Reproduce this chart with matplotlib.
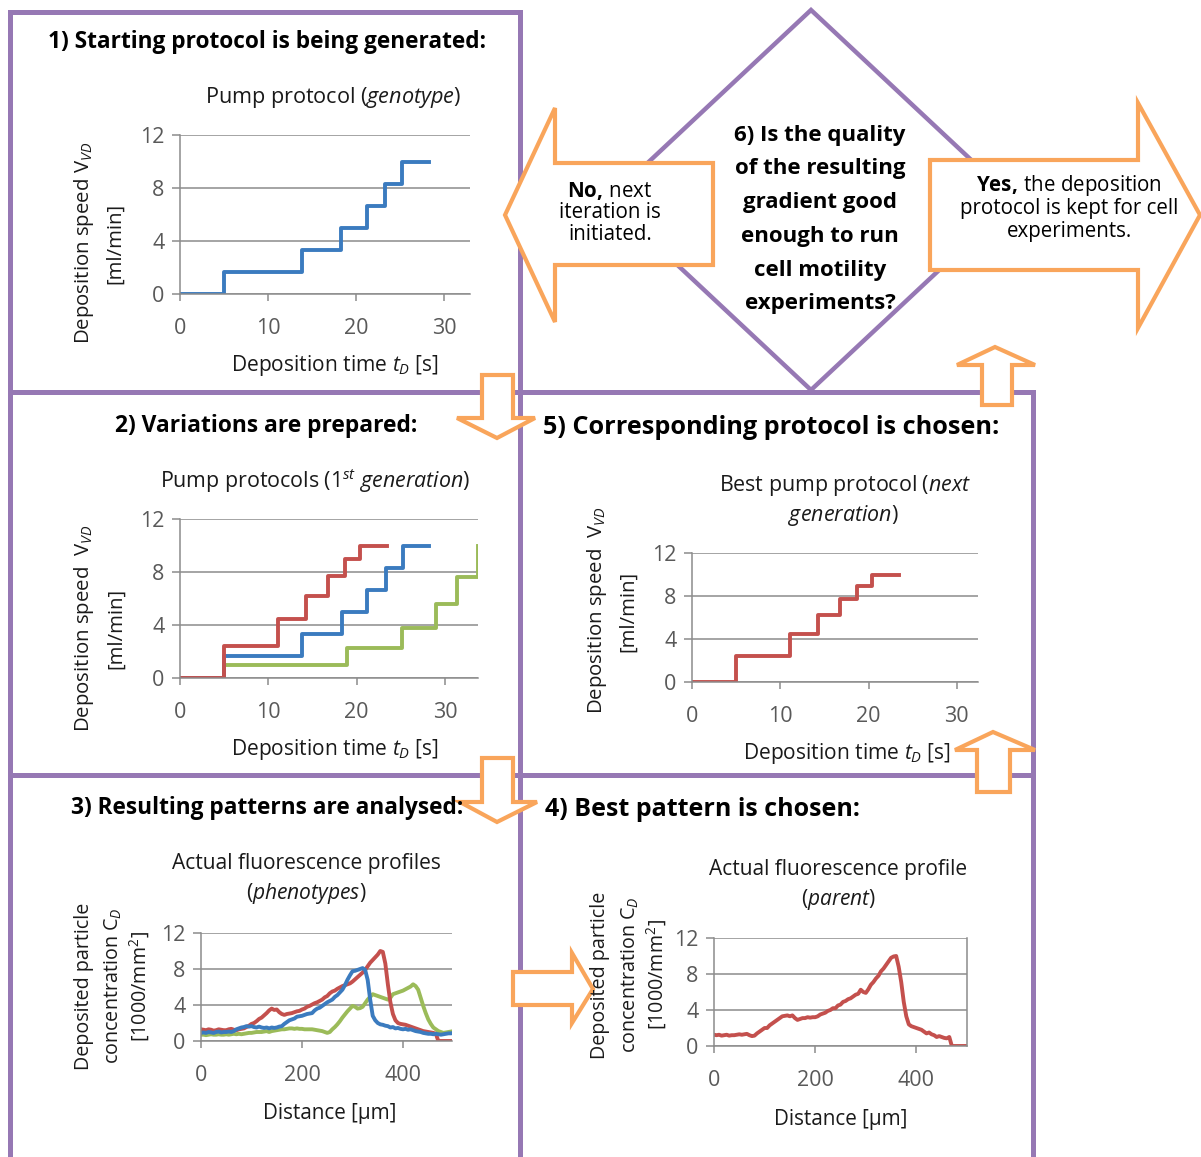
import matplotlib
matplotlib.use("Agg")
import matplotlib.pyplot as plt
from matplotlib.patches import Polygon

plt.rcParams['font.family'] = ['Open Sans', 'DejaVu Sans']
plt.rcParams['mathtext.fontset'] = 'custom'
plt.rcParams['mathtext.rm'] = 'Open Sans'
plt.rcParams['mathtext.it'] = 'Open Sans:italic'
plt.rcParams['mathtext.bf'] = 'Open Sans:bold'

# ---- pump protocols (step functions): switch times [s] and speeds [ml/min]
blue_t = [0, 5, 13.8, 18.3, 21.2, 23.3, 25.2, 28.2]
blue_v = [0, 1.67, 3.33, 5.0, 6.67, 8.33, 10, 10]
red_t = [0, 5, 11.1, 14.3, 16.8, 18.7, 20.4, 23.5]
red_v = [0, 2.4, 4.45, 6.2, 7.7, 8.95, 10, 10]
green_t = [0, 5, 18.9, 25.1, 29.0, 31.4, 33.7, 33.7]
green_v = [0, 1.0, 2.3, 3.8, 5.6, 7.6, 10, 10]

# ---- fluorescence profiles, sampled every 5 um from 0 to 500
dist = list(range(0, 505, 5))
prof_red = [1.3, 1.25, 1.2, 1.3, 1.25, 1.15, 1.2, 1.3, 1.25, 1.2,
            1.2, 1.3, 1.35, 1.25, 1.2, 1.3, 1.35, 1.4, 1.55, 1.7,
            1.9, 2.0, 2.2, 2.45, 2.6, 2.85, 3.1, 3.4, 3.6, 3.45,
            3.5, 3.2, 3.0, 2.9, 3.0, 3.05, 3.1, 3.2, 3.3, 3.35,
            3.5, 3.6, 3.8, 3.9, 4.05, 4.2, 4.3, 4.45, 4.6, 4.85,
            5.0, 5.3, 5.5, 5.6, 5.8, 5.95, 6.1, 6.2, 6.3, 6.4,
            6.6, 6.85, 7.1, 7.35, 7.6, 7.9, 8.3, 8.7, 9.0, 9.3,
            9.6, 10.0, 9.9, 8.6, 6.3, 4.3, 3.0, 2.3, 2.0, 1.9,
            1.85, 1.8, 1.7, 1.6, 1.5, 1.4, 1.3, 1.2, 1.1, 1.05,
            1.0, 0.95, 0.9, 0.8, 0.0, 0, 0, 0, 0, 0,
            0]
prof_blue = [0.9, 0.95, 0.9, 1.0, 0.95, 0.9, 1.0, 1.05, 0.95, 1.0,
             1.0, 1.05, 1.0, 1.1, 1.3, 1.4, 1.5, 1.55, 1.65, 1.6,
             1.65, 1.55, 1.5, 1.6, 1.5, 1.45, 1.5, 1.4, 1.5, 1.45,
             1.5, 1.6, 1.65, 1.9, 2.1, 2.3, 2.4, 2.5, 2.7, 2.75,
             2.8, 2.9, 3.0, 3.05, 3.1, 3.4, 3.6, 3.7, 3.9, 4.1,
             4.3, 4.45, 4.6, 4.9, 5.1, 5.4, 5.7, 6.2, 6.8, 7.3,
             7.75, 7.8, 7.9, 8.0, 8.1, 7.9, 6.8, 4.6, 2.8, 2.3,
             2.0, 1.85, 1.8, 1.7, 1.65, 1.5, 1.55, 1.4, 1.45, 1.35,
             1.3, 1.35, 1.25, 1.3, 1.2, 1.1, 1.05, 1.0, 0.9, 0.85,
             0.8, 0.8, 0.75, 0.8, 0.75, 0.7, 0.75, 0.8, 0.85, 0.85,
             0.9]
prof_green = [0.7, 0.7, 0.65, 0.7, 0.75, 0.7, 0.7, 0.75, 0.7, 0.7,
              0.75, 0.7, 0.75, 0.8, 0.75, 0.8, 0.75, 0.8, 0.85, 0.9,
              0.9, 0.95, 1.0, 1.0, 1.0, 1.05, 1.1, 1.0, 1.1, 1.15,
              1.2, 1.25, 1.3, 1.3, 1.35, 1.4, 1.4, 1.35, 1.4, 1.35,
              1.35, 1.3, 1.3, 1.3, 1.3, 1.25, 1.2, 1.15, 1.1, 1.0,
              0.9, 1.0, 1.3, 1.55, 1.85, 2.2, 2.6, 2.95, 3.3, 3.6,
              3.9, 3.8, 3.6, 3.65, 3.8, 4.2, 4.6, 4.9, 5.2, 5.1,
              5.0, 4.9, 4.8, 4.7, 4.6, 4.8, 5.2, 5.3, 5.4, 5.5,
              5.6, 5.75, 5.9, 6.05, 6.3, 6.1, 5.7, 4.8, 3.9, 3.1,
              2.4, 1.9, 1.5, 1.3, 1.1, 1.0, 0.9, 0.95, 1.0, 1.05,
              1.1]
prof_parent = [1.25, 1.2, 1.25, 1.15, 1.2, 1.25, 1.15, 1.2, 1.2, 1.25,
               1.3, 1.25, 1.3, 1.35, 1.2, 1.1, 1.15, 1.4, 1.6, 1.8,
               2.0, 2.0, 2.3, 2.5, 2.7, 2.9, 3.1, 3.3, 3.35, 3.4,
               3.3, 3.4, 3.1, 2.9, 3.0, 3.1, 3.1, 3.2, 3.15, 3.2,
               3.2, 3.3, 3.5, 3.6, 3.7, 3.9, 4.0, 4.2, 4.2, 4.5,
               4.6, 4.9, 5.0, 5.2, 5.3, 5.5, 5.7, 5.8, 6.25, 6.0,
               5.9, 6.3, 6.8, 7.1, 7.5, 7.8, 8.3, 8.6, 9.0, 9.4,
               9.8, 9.95, 10.0, 8.8, 7.1, 4.9, 3.3, 2.4, 2.2, 2.1,
               2.0, 1.9, 1.8, 1.6, 1.4, 1.5, 1.3, 1.2, 1.0, 1.1,
               1.0, 0.9, 0.85, 1.0, 0.0, 0, 0, 0, 0, 0,
               0]

speed_ticks = [0, 4, 8, 12]
time_ticks = [0, 10, 20, 30]
dist_ticks = [0, 200, 400]

W, H = 1201, 1157
PURPLE = '#9678B4'
ORANGE = '#F9A55B'
BLUE = '#3B7BBF'
RED = '#C4504D'
GREEN = '#9BBB59'
GRID = '#8C8C8C'
TICKC = '#595959'
TXT = '#1a1a1a'

fig = plt.figure(figsize=(W / 100, H / 100), dpi=100)

# overlay axes in pixel coordinates for the flowchart
ov = fig.add_axes([0, 0, 1, 1])
ov.set_xlim(0, W)
ov.set_ylim(H, 0)
ov.axis('off')

# purple boxes
lw_box = 3.6
for xs, ys in [([10, 520], [12, 12]), ([10, 10], [12, H]), ([520, 520], [12, H]),
               ([10, 1033], [392, 392]), ([10, 1033], [775, 775]), ([1033, 1033], [392, H])]:
    ov.plot(xs, ys, color=PURPLE, lw=lw_box, solid_capstyle='projecting')

# decision diamond
ov.add_patch(Polygon([(811, 10), (1014, 200), (811, 390), (608, 200)], closed=True,
                     fill=False, edgecolor=PURPLE, lw=3.2, joinstyle='miter'))

# orange arrows
arrows = [
    [(505, 215), (555, 108), (555, 163), (713, 163), (713, 265), (555, 265), (555, 322)],
    [(930, 160), (1138, 160), (1138, 103), (1200, 215), (1138, 328), (1138, 270), (930, 270)],
    [(482, 375), (513, 375), (513, 418), (535, 418), (497, 438), (457, 418), (482, 418)],
    [(482, 758), (513, 758), (513, 802), (537, 802), (497, 822), (460, 802), (482, 802)],
    [(513, 972), (572, 972), (572, 953), (593, 989), (572, 1023), (572, 1005), (513, 1005)],
    [(982, 405), (982, 365), (957, 365), (995, 347), (1035, 365), (1012, 365), (1012, 405)],
    [(977, 792), (977, 750), (955, 750), (993, 732), (1035, 750), (1010, 750), (1010, 792)],
]
for pts in arrows:
    ov.add_patch(Polygon(pts, closed=True, facecolor='white', edgecolor=ORANGE,
                         lw=3.0, joinstyle='miter', zorder=3))

# headings
ov.text(267, 42, '1) Starting protocol is being generated:', ha='center', va='center',
        fontsize=16.3, fontweight='bold', color='black', zorder=5)
ov.text(266, 426, '2) Variations are prepared:', ha='center', va='center',
        fontsize=16.4, fontweight='bold', color='black', zorder=5)
ov.text(267, 808, '3) Resulting patterns are analysed:', ha='center', va='center',
        fontsize=16.3, fontweight='bold', color='black', zorder=5)
ov.text(543, 427, '5) Corresponding protocol is chosen:', ha='left', va='center',
        fontsize=18.2, fontweight='bold', color='black', zorder=5)
ov.text(545, 810, '4) Best pattern is chosen:', ha='left', va='center',
        fontsize=18.0, fontweight='bold', color='black', zorder=5)

# decision text
q_lines = ['6) Is the quality', 'of the resulting', 'gradient good',
           'enough to run', 'cell motility', 'experiments?']
for i, s in enumerate(q_lines):
    ov.text(820, 135 + i * 33.8, s, ha='center', va='center', fontsize=16,
            fontweight='bold', color='black', zorder=5)

no_lines = [r'$\mathbf{No,}\,$next', 'iteration is', 'initiated.']
for i, s in enumerate(no_lines):
    ov.text(610, 191 + i * 22, s, ha='center', va='center', fontsize=14.8,
            color='black', zorder=5)
yes_lines = [r'$\mathbf{Yes,}\,$the deposition', 'protocol is kept for cell', 'experiments.']
for i, s in enumerate(yes_lines):
    ov.text(1069, 186 + i * 22.5, s, ha='center', va='center', fontsize=14.8,
            color='black', zorder=5)


def px_axes(left, top, right, bottom):
    return fig.add_axes([left / W, 1 - bottom / H, (right - left) / W, (bottom - top) / H])


def excel_style(ax, xticks, right_spine=False):
    ax.patch.set_visible(False)
    ax.set_ylim(0, 12)
    ax.set_yticks(speed_ticks)
    ax.set_xticks(xticks)
    ax.grid(axis='y', color=GRID, lw=1.1)
    ax.set_axisbelow(True)
    for side in ['top', 'right']:
        ax.spines[side].set_visible(False)
    if right_spine:
        ax.spines['right'].set_visible(True)
        ax.spines['right'].set_color(GRID)
        ax.spines['right'].set_linewidth(1.1)
    for side in ['left', 'bottom']:
        ax.spines[side].set_color(GRID)
        ax.spines[side].set_linewidth(1.1)
    ax.tick_params(axis='y', length=6, width=1.1, color=GRID, pad=5,
                   labelsize=15.5, labelcolor=TICKC)
    ax.tick_params(axis='x', length=5, width=1.1, color=GRID, pad=12,
                   labelsize=15.5, labelcolor=TICKC)


def label_px(x, y, s, rot=0, size=15.1):
    ov.text(x, y, s, ha='center', va='center', rotation=rot, fontsize=size,
            color=TXT, zorder=6)


# ---- chart 1: starting protocol
ax1 = px_axes(180, 135, 470, 294)
ax1.step(blue_t, blue_v, where='post', color=BLUE, lw=2.8)
ax1.set_xlim(0, 32.9)
excel_style(ax1, time_ticks)
label_px(333, 97, r'Pump protocol ($\mathit{genotype}$)', size=15.6)
label_px(84, 243, r'Deposition speed V$_{\mathit{VD}}$', rot=90, size=14.7)
label_px(115, 243, '[ml/min]', rot=90, size=14.7)
label_px(335, 365, r'Deposition time $t_D$ [s]')

# ---- chart 2: variations
ax2 = px_axes(180, 519, 478, 678)
ax2.step(green_t, green_v, where='post', color=GREEN, lw=2.8)
ax2.step(blue_t, blue_v, where='post', color=BLUE, lw=2.8)
ax2.step(red_t, red_v, where='post', color=RED, lw=2.8)
ax2.set_xlim(0, 33.75)
excel_style(ax2, time_ticks)
label_px(315, 481, r'Pump protocols ($\mathit{1}^{\mathit{st}}\ \mathit{generation}$)', size=15.4)
label_px(84, 628, r'Deposition speed  V$_{\mathit{VD}}$', rot=90, size=14.7)
label_px(116, 628, '[ml/min]', rot=90, size=14.7)
label_px(335, 749, r'Deposition time $t_D$ [s]')

# ---- chart 5: chosen protocol
ax5 = px_axes(692, 553, 978, 682)
ax5.step(red_t, red_v, where='post', color=RED, lw=2.8)
ax5.set_xlim(0, 32.4)
excel_style(ax5, time_ticks)
label_px(845, 486, r'Best pump protocol ($\mathit{next}$', size=15.4)
label_px(843, 515, r'$\mathit{generation}$)', size=15.4)
label_px(597, 610, r'Deposition speed  V$_{\mathit{VD}}$', rot=90, size=14.7)
label_px(628, 611, '[ml/min]', rot=90, size=14.7)
label_px(847, 753, r'Deposition time $t_D$ [s]')

# ---- chart 3: phenotypes
ax3 = px_axes(201, 933, 452, 1041)
ax3.plot(dist, prof_green, color=GREEN, lw=2.8)
ax3.plot(dist, prof_red, color=RED, lw=2.8)
ax3.plot(dist, prof_blue, color=BLUE, lw=2.8)
ax3.set_xlim(0, 497)
excel_style(ax3, dist_ticks)
label_px(306, 864, 'Actual fluorescence profiles', size=15.1)
label_px(306, 894, r'($\mathit{phenotypes}$)', size=15.1)
label_px(84, 986, 'Deposited particle', rot=90, size=14.2)
label_px(113, 986, r'concentration C$_{\mathit{D}}$', rot=90, size=14.2)
label_px(140, 987, r'[1000/mm$^{2}$]', rot=90, size=14.2)
label_px(330, 1114, 'Distance [µm]', size=14.9)

# ---- chart 4: parent
ax4 = px_axes(714, 938, 967, 1046)
ax4.plot(dist, prof_parent, color=RED, lw=2.8)
ax4.set_xlim(0, 500)
excel_style(ax4, dist_ticks, right_spine=True)
label_px(838, 869, 'Actual fluorescence profile', size=15.0)
label_px(838, 899, r'($\mathit{parent}$)', size=15.0)
label_px(600, 975, 'Deposited particle', rot=90, size=14.2)
label_px(630, 975, r'concentration C$_{\mathit{D}}$', rot=90, size=14.2)
label_px(657, 975, r'[1000/mm$^{2}$]', rot=90, size=14.2)
label_px(841, 1119, 'Distance [µm]', size=14.9)

fig.savefig('out.png', dpi=100)
